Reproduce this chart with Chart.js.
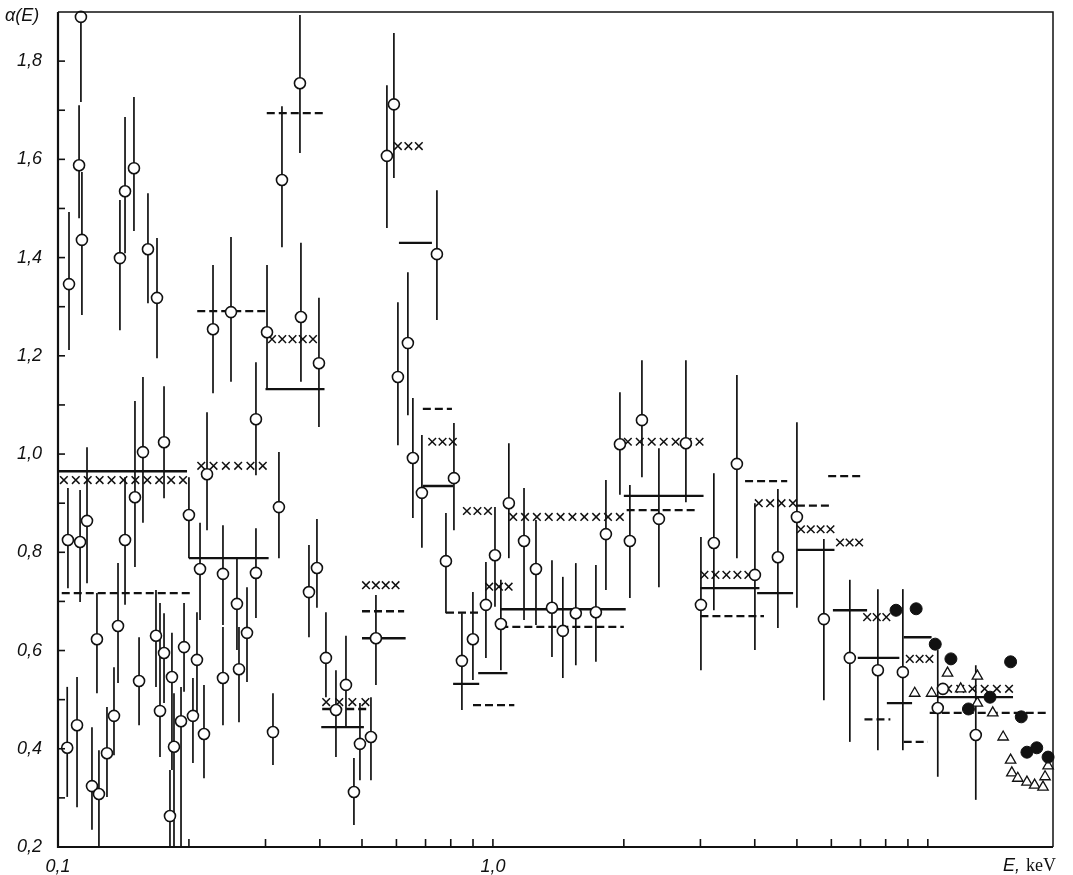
<!DOCTYPE html>
<html lang="en">
<head>
<meta charset="UTF-8">
<title>α(E)</title>
<script src="https://cdn.jsdelivr.net/npm/chart.js"></script>
<style>
  html, body { margin: 0; padding: 0; background: #fff; }
</style>
</head>
<body>
<canvas id="alphaChart" width="1073" height="875"></canvas>
<script>
// open circles with error bars: energy (keV), alpha, lower / upper end of the bar
const circleE = [
  0.105, 0.1054, 0.106, 0.1106, 0.1118, 0.1124, 0.1129, 0.1135, 0.1166, 0.1197,
  0.1229, 0.1242, 0.1296, 0.1345, 0.1374, 0.1388, 0.1426, 0.1426, 0.1495, 0.1503,
  0.1536, 0.1568, 0.161, 0.168, 0.1689, 0.1716, 0.1753, 0.1753, 0.1809, 0.1828,
  0.1848, 0.1918, 0.1949, 0.2, 0.2043, 0.2087, 0.2121, 0.2166, 0.2201, 0.2272,
  0.2395, 0.2395, 0.2499, 0.2579, 0.2607, 0.272, 0.2852, 0.2852, 0.3024, 0.3121,
  0.3221, 0.3273, 0.36, 0.3619, 0.3776, 0.3939, 0.3981, 0.4131, 0.4356, 0.4593,
  0.4791, 0.4946, 0.5243, 0.5383, 0.5705, 0.592, 0.6047, 0.6375, 0.6546, 0.6866,
  0.7434, 0.7798, 0.8135, 0.8486, 0.8995, 0.9636, 1.011, 1.043, 1.088, 1.179,
  1.256, 1.367, 1.448, 1.551, 1.725, 1.819, 1.959, 2.065, 2.201, 2.408,
  2.778, 3.008, 3.221, 3.639, 4.003, 4.521, 5.0, 5.767, 6.617, 7.676,
  8.761, 10.54, 10.83, 12.89
];
const circleAlpha = [
  0.402, 0.825, 1.346, 0.448, 1.588, 0.821, 1.89, 1.436, 0.864, 0.324,
  0.623, 0.308, 0.391, 0.467, 0.65, 1.399, 1.535, 0.825, 1.582, 0.912,
  0.538, 1.004, 1.417, 0.63, 1.318, 0.477, 0.595, 1.024, 0.263, 0.546,
  0.404, 0.456, 0.607, 0.876, 0.467, 0.581, 0.766, 0.43, 0.959, 1.254,
  0.756, 0.544, 1.289, 0.695, 0.562, 0.636, 1.071, 0.758, 1.248, 0.434,
  0.892, 1.558, 1.755, 1.279, 0.719, 0.768, 1.185, 0.585, 0.479, 0.53,
  0.312, 0.41, 0.424, 0.625, 1.607, 1.712, 1.157, 1.226, 0.992, 0.921,
  1.407, 0.782, 0.951, 0.579, 0.623, 0.693, 0.794, 0.654, 0.9, 0.823,
  0.766, 0.687, 0.64, 0.676, 0.678, 0.837, 1.02, 0.823, 1.069, 0.868,
  1.022, 0.693, 0.819, 0.98, 0.754, 0.79, 0.872, 0.664, 0.585, 0.56,
  0.556, 0.483, 0.522, 0.428
];
const circleLo = [
  0.302, 0.727, 1.212, 0.281, 1.48, 0.699, 1.717, 1.283, 0.737, 0.235,
  0.513, 0.18, 0.302, 0.387, 0.534, 1.252, 1.409, 0.693, 1.454, 0.77,
  0.448, 0.86, 1.307, 0.526, 1.195, 0.383, 0.493, 0.91, 0.18, 0.357,
  0.18, 0.18, 0.516, 0.788, 0.371, 0.473, 0.662, 0.34, 0.845, 1.124,
  0.652, 0.448, 1.147, 0.601, 0.454, 0.536, 0.957, 0.666, 1.134, 0.367,
  0.788, 1.421, 1.613, 1.147, 0.627, 0.687, 1.055, 0.505, 0.383, 0.444,
  0.245, 0.336, 0.336, 0.53, 1.46, 1.562, 1.018, 1.079, 0.87, 0.809,
  1.273, 0.676, 0.845, 0.479, 0.54, 0.585, 0.689, 0.56, 0.788, 0.662,
  0.652, 0.587, 0.544, 0.57, 0.577, 0.723, 0.917, 0.707, 0.953, 0.729,
  0.902, 0.56, 0.682, 0.788, 0.601, 0.646, 0.687, 0.499, 0.414, 0.397,
  0.397, 0.343, 0.522, 0.296
];
const circleHi = [
  0.526, 0.931, 1.493, 0.546, 1.71, 0.927, 1.95, 1.574, 1.014, 0.444,
  0.717, 0.397, 0.485, 0.566, 0.778, 1.517, 1.686, 0.953, 1.727, 1.108,
  0.627, 1.157, 1.531, 0.723, 1.44, 0.697, 0.676, 1.138, 0.357, 0.636,
  0.513, 0.526, 0.697, 0.953, 0.544, 0.678, 0.86, 0.53, 1.085, 1.385,
  0.855, 0.648, 1.442, 0.79, 0.648, 0.729, 1.187, 0.849, 1.385, 0.513,
  1.004, 1.708, 1.894, 1.43, 0.815, 0.868, 1.318, 0.678, 0.56, 0.63,
  0.381, 0.493, 0.505, 0.713, 1.751, 1.857, 1.309, 1.37, 1.114, 1.039,
  1.537, 0.88, 1.063, 0.676, 0.719, 0.78, 0.892, 0.744, 1.022, 0.931,
  0.866, 0.784, 0.75, 0.778, 0.774, 0.947, 1.126, 0.937, 1.191, 1.012,
  1.191, 0.831, 0.961, 1.161, 0.9, 0.929, 1.065, 0.827, 0.744, 0.725,
  0.725, 0.601, 0.522, 0.57
];

// filled circles
const dotE = [8.45, 9.4, 10.4, 11.3, 12.4, 13.9, 15.5, 16.4, 16.9, 17.8, 18.9];
const dotAlpha = [0.682, 0.685, 0.613, 0.583, 0.481, 0.505, 0.577, 0.465, 0.393, 0.402, 0.383];

// open triangles
const triE = [9.33, 10.2, 11.1, 11.9, 13.0, 13.0, 14.1, 14.9, 15.5, 15.6, 16.1, 16.9, 17.6, 18.4, 18.6, 18.9];
const triAlpha = [0.513, 0.513, 0.554, 0.522, 0.548, 0.493, 0.473, 0.424, 0.377, 0.351, 0.34, 0.332, 0.326, 0.322, 0.343, 0.365];

// averaged bins [E from, E to, alpha]
const solidBins = [
  [0.1, 0.198, 0.965], [0.2, 0.305, 0.788], [0.3, 0.41, 1.132], [0.403, 0.505, 0.444],
  [0.5, 0.63, 0.625], [0.608, 0.724, 1.43], [0.69, 0.81, 0.935], [0.81, 0.93, 0.532],
  [0.925, 1.08, 0.554], [1.04, 2.02, 0.684], [2.0, 3.05, 0.915], [3.0, 4.1, 0.727],
  [4.05, 4.9, 0.717], [5.0, 6.1, 0.805], [6.05, 7.25, 0.682], [6.9, 8.6, 0.585],
  [8.05, 9.2, 0.493], [8.8, 10.2, 0.627], [10.5, 15.7, 0.505]
];
const dashedBins = [
  [0.102, 0.205, 0.717], [0.209, 0.302, 1.291], [0.302, 0.407, 1.694], [0.405, 0.52, 0.481],
  [0.5, 0.625, 0.68], [0.69, 0.805, 1.092], [0.78, 0.933, 0.677], [0.9, 1.12, 0.489],
  [1.04, 2.0, 0.648], [2.03, 2.95, 0.886], [3.0, 4.2, 0.67], [3.8, 4.75, 0.945],
  [5.0, 6.05, 0.895], [5.9, 7.05, 0.955], [7.15, 8.2, 0.46], [8.8, 10.0, 0.414],
  [10.1, 18.8, 0.473]
];
const crossBins = [
  [0.101, 0.198, 0.947], [0.209, 0.302, 0.976], [0.304, 0.394, 1.234], [0.405, 0.52, 0.495],
  [0.5, 0.61, 0.733], [0.592, 0.69, 1.627], [0.71, 0.826, 1.025], [0.853, 0.995, 0.884],
  [0.96, 1.11, 0.73], [1.09, 2.0, 0.872], [2.0, 3.05, 1.025], [3.0, 3.95, 0.754],
  [4.0, 5.0, 0.9], [5.0, 6.1, 0.847], [6.15, 7.1, 0.82], [7.1, 8.2, 0.668],
  [8.9, 10.3, 0.583], [10.9, 15.7, 0.522]
];

// axis ticks
const xTickValues = [0.1, 0.2, 0.3, 0.4, 0.5, 0.6, 0.7, 0.8, 0.9, 1, 2, 3, 4, 5, 6, 7, 8, 9, 10];
const xTickText = ['0,1', '', '', '', '', '', '', '', '', '1,0', '', '', '', '', '', '', '', '', ''];
const yTickValues = [0.2, 0.3, 0.4, 0.5, 0.6, 0.7, 0.8, 0.9, 1.0, 1.1, 1.2, 1.3, 1.4, 1.5, 1.6, 1.7, 1.8];
const yTickText = ['0,2', '', '0,4', '', '0,6', '', '0,8', '', '1,0', '', '1,2', '', '1,4', '', '1,6', '', '1,8'];

const INK = '#111';
const labelFont = { family: 'Liberation Sans', size: 18, style: 'italic' };

function binPoints(bins) {
  const pts = [];
  bins.forEach(([a, b, v]) => {
    pts.push({ x: a, y: v }, { x: b, y: v }, { x: b, y: null });
  });
  return pts;
}

// vertical error bars under the open circles, then the × rows
const errorBars = {
  id: 'errorBars',
  beforeDatasetsDraw(chart) {
    const { ctx, chartArea: ca, scales: { x, y } } = chart;
    ctx.save();
    ctx.beginPath();
    ctx.rect(ca.left, ca.top, ca.width, ca.height);
    ctx.clip();
    ctx.strokeStyle = INK;
    ctx.lineWidth = 1.7;
    circleE.forEach((e, i) => {
      if (circleLo[i] === circleHi[i]) return;
      const px = x.getPixelForValue(e);
      ctx.beginPath();
      ctx.moveTo(px, y.getPixelForValue(circleLo[i]));
      ctx.lineTo(px, y.getPixelForValue(circleHi[i]));
      ctx.stroke();
    });
    ctx.lineWidth = 1.5;
    crossBins.forEach(([a, b, v]) => {
      const x1 = x.getPixelForValue(a) + 4;
      const x2 = x.getPixelForValue(b) - 4;
      const py = y.getPixelForValue(v);
      const n = Math.max(3, Math.round((x2 - x1) / 11.5) + 1);
      for (let k = 0; k < n; k++) {
        const cx = x1 + (x2 - x1) * k / (n - 1);
        ctx.beginPath();
        ctx.moveTo(cx - 3.8, py - 3.8); ctx.lineTo(cx + 3.8, py + 3.8);
        ctx.moveTo(cx + 3.8, py - 3.8); ctx.lineTo(cx - 3.8, py + 3.8);
        ctx.stroke();
      }
    });
    ctx.restore();
  }
};

// frame, inward tick marks and the axis captions
const frame = {
  id: 'frame',
  afterDraw(chart) {
    const { ctx, chartArea: ca, scales: { x, y } } = chart;
    ctx.save();
    ctx.strokeStyle = INK;
    ctx.lineWidth = 1.5;
    ctx.beginPath();
    ctx.moveTo(ca.left, ca.top); ctx.lineTo(ca.right, ca.top); ctx.lineTo(ca.right, ca.bottom);
    ctx.stroke();
    ctx.lineWidth = 2.2;
    ctx.beginPath();
    ctx.moveTo(ca.left, ca.top); ctx.lineTo(ca.left, ca.bottom); ctx.lineTo(ca.right, ca.bottom);
    ctx.stroke();
    ctx.lineWidth = 1.6;
    yTickValues.forEach(v => {
      const py = y.getPixelForValue(v);
      ctx.beginPath(); ctx.moveTo(ca.left, py); ctx.lineTo(ca.left + 7, py); ctx.stroke();
    });
    xTickValues.forEach(v => {
      const px = x.getPixelForValue(v);
      ctx.beginPath(); ctx.moveTo(px, ca.bottom); ctx.lineTo(px, ca.bottom - 8); ctx.stroke();
    });
    ctx.fillStyle = INK;
    ctx.textBaseline = 'middle';
    ctx.textAlign = 'left';
    ctx.font = 'italic 18px "Liberation Sans"';
    ctx.fillText('α(E)', 5, 16);
    ctx.fillText('E,', 1003, 866);
    ctx.font = '18px "Liberation Serif"';
    ctx.fillText('keV', 1026, 866);
    ctx.restore();
  }
};

new Chart(document.getElementById('alphaChart'), {
  type: 'scatter',
  data: {
    datasets: [
      {
        data: circleE.map((e, i) => ({ x: e, y: circleAlpha[i] })),
        pointStyle: 'circle', pointRadius: 5.5, borderWidth: 1.6,
        borderColor: INK, backgroundColor: '#fff', clip: 8, order: 0
      },
      {
        data: dotE.map((e, i) => ({ x: e, y: dotAlpha[i] })),
        pointStyle: 'circle', pointRadius: 6, borderWidth: 1,
        borderColor: INK, backgroundColor: INK, clip: 8, order: 0
      },
      {
        data: triE.map((e, i) => ({ x: e, y: triAlpha[i] })),
        pointStyle: 'triangle', pointRadius: 6, borderWidth: 1.3,
        borderColor: INK, backgroundColor: '#fff', clip: 8, order: 1
      },
      {
        data: binPoints(solidBins), showLine: true, spanGaps: false,
        pointRadius: 0, borderColor: INK, borderWidth: 2.3, order: 5
      },
      {
        data: binPoints(dashedBins), showLine: true, spanGaps: false,
        pointRadius: 0, borderColor: INK, borderWidth: 2.3, borderDash: [8, 4], order: 5
      }
    ]
  },
  options: {
    responsive: false,
    animation: false,
    layout: { padding: { top: 12, right: 20, left: 0, bottom: 0 } },
    plugins: { legend: { display: false }, tooltip: { enabled: false } },
    scales: {
      x: {
        type: 'logarithmic', min: 0.1, max: 19.4,
        grid: { display: false }, border: { display: false },
        afterBuildTicks: s => { s.ticks = xTickValues.map(v => ({ value: v })); },
        afterFit: s => { s.height = 28; s.paddingLeft = 0; s.paddingRight = 0; },
        ticks: {
          autoSkip: false, maxRotation: 0, padding: 1, color: INK, font: labelFont,
          callback: (v, i) => xTickText[i]
        }
      },
      y: {
        min: 0.2, max: 1.9,
        grid: { display: false }, border: { display: false },
        afterBuildTicks: s => { s.ticks = yTickValues.map(v => ({ value: v })); },
        afterFit: s => { s.width = 58; s.paddingTop = 0; s.paddingBottom = 0; },
        ticks: {
          autoSkip: false, padding: 8, color: INK, font: labelFont,
          callback: (v, i) => yTickText[i]
        }
      }
    }
  },
  plugins: [errorBars, frame]
});
</script>
</body>
</html>
